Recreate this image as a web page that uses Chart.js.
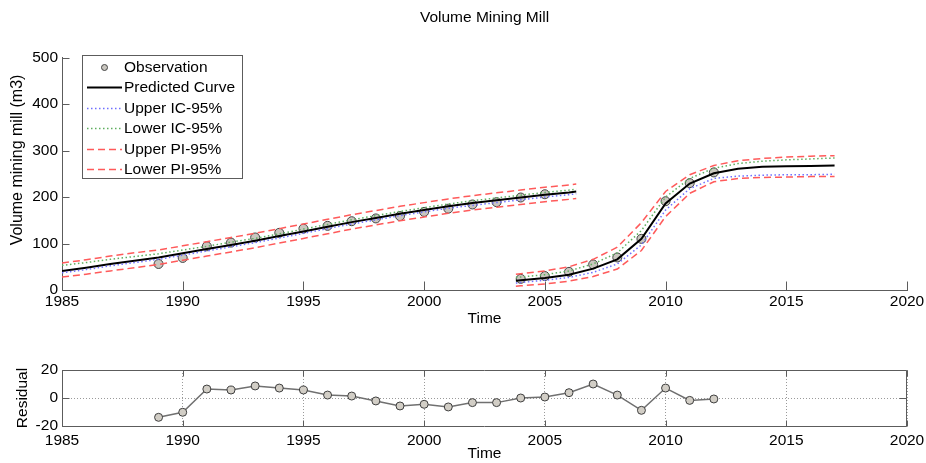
<!DOCTYPE html>
<html>
<head>
<meta charset="utf-8">
<script src="https://cdn.jsdelivr.net/npm/chart.js@4/dist/chart.umd.min.js"></script>
<style>
  body { margin: 0; background: #fff; }
  #wrap { position: relative; width: 926px; height: 463px; }
  #wrap canvas { position: absolute; left: 0; }
  #volumeChart { top: 0; }
  #residualChart { top: 330px; }
</style>
</head>
<body>
<div id="wrap">
  <canvas id="volumeChart" width="926" height="328"></canvas>
  <canvas id="residualChart" width="926" height="133"></canvas>
</div>
<script>
// observed volumes, first and second mill campaigns
const obsYears1 = [1989, 1990, 1991, 1992, 1993, 1994, 1995, 1996, 1997, 1998, 1999, 2000, 2001, 2002, 2003, 2004, 2005];
const obsVolume1 = [56, 69, 94, 102, 113, 123, 132, 138, 148, 154, 159, 168, 175, 184, 189, 199, 206];
const obsYears2 = [2004, 2005, 2006, 2007, 2008, 2009, 2010, 2011, 2012];
const obsVolume2 = [24, 30, 39, 55, 70, 110, 191, 230, 253];

// fitted curve and 95% bands, first campaign
const fitYears1 = [1985, 1986, 1987, 1988, 1989, 1990, 1991, 1992, 1993, 1994, 1995, 1996, 1997, 1998, 1999, 2000, 2001, 2002, 2003, 2004, 2005, 2006, 2006.3];
const predicted1 = [41, 48, 56, 63, 70, 79, 88, 97, 106, 116, 126, 136, 146, 155, 164, 172, 180, 187, 193, 199, 205, 210, 212];
const upperIC1 = [37, 44, 52, 59, 66, 75, 84, 93, 102, 112, 122, 132, 142, 151, 160, 168, 176, 182, 188, 194, 200, 205, 207];
const lowerIC1 = [53, 59, 66, 72, 78, 86, 94, 103, 111, 121, 131, 141, 151, 160, 169, 177, 185, 192, 198, 204, 210, 215, 217];
const upperPI1 = [58, 65, 73, 80, 86, 95, 104, 113, 122, 132, 142, 152, 162, 171, 180, 188, 196, 203, 209, 215, 221, 226, 228];
const lowerPI1 = [28, 34, 41, 48, 55, 64, 73, 82, 91, 101, 111, 121, 131, 140, 149, 157, 165, 172, 178, 184, 190, 195, 197];

// fitted curve and 95% bands, second campaign
const fitYears2 = [2003.8, 2004, 2005, 2006, 2007, 2008, 2009, 2010, 2011, 2012, 2013, 2014, 2015, 2016, 2017];
const predicted2 = [20, 21, 26, 33, 46, 66, 110, 186, 229, 251, 261, 265, 266, 267, 268];
const upperIC2 = [15, 16, 21, 27, 38, 56, 97, 172, 218, 240, 245, 247, 248, 248, 249];
const lowerIC2 = [27, 28, 33, 41, 56, 80, 128, 200, 240, 262, 272, 277, 280, 282, 284];
const upperPI2 = [34, 35, 41, 50, 66, 92, 145, 212, 248, 268, 278, 283, 286, 288, 289];
const lowerPI2 = [8, 9, 13, 19, 29, 45, 85, 158, 208, 233, 240, 242, 243, 244, 244];

const residualYears = [1989, 1990, 1991, 1992, 1993, 1994, 1995, 1996, 1997, 1998, 1999, 2000, 2001, 2002, 2003, 2004, 2005, 2006, 2007, 2008, 2009, 2010, 2011, 2012];
const residuals = [-13.8, -10.2, 6.4, 5.7, 8.6, 7.1, 5.7, 2.1, 1.4, -2.1, -5.7, -4.5, -6.4, -3.3, -3.3, 0, 0.7, 3.8, 10, 2.1, -8.8, 7.1, -1.7, -0.7];

const FONT = '"Liberation Sans", Arial, sans-serif';
const AXIS = '#5c5c5c';
Chart.defaults.font.family = FONT;
Chart.defaults.font.size = 15.5;
Chart.defaults.color = '#111';

function points(xs, ys) {
  return xs.map((x, i) => ({ x: x, y: ys[i] }));
}

// two campaigns in one dataset, split by a null point
function twoPieces(xs1, ys1, xs2, ys2) {
  return points(xs1, ys1).concat([{ x: xs1[xs1.length - 1], y: null }], points(xs2, ys2));
}

const yearLabel = (v) => String(v);

// MATLAB style frame: inward ticks, optional closed box
const axisFrame = {
  id: 'axisFrame',
  afterDraw(chart, args, opts) {
    const { ctx, chartArea: a, scales: { x, y } } = chart;
    const L = Math.round(a.left) + 0.5, R = Math.round(a.right) - 0.5;
    const T = Math.round(a.top) + 0.5, B = Math.round(a.bottom) + 0.5;
    ctx.save();
    ctx.strokeStyle = AXIS;
    ctx.lineWidth = 1;
    ctx.setLineDash([]);
    ctx.beginPath();
    if (opts.box) {
      ctx.rect(L, T, R - L, B - T);
    }
    x.ticks.forEach((t) => {
      const px = Math.round(x.getPixelForValue(t.value)) + 0.5;
      ctx.moveTo(px, B); ctx.lineTo(px, B - opts.tickX);
      if (opts.box) { ctx.moveTo(px, T); ctx.lineTo(px, T + opts.tickX); }
    });
    y.ticks.forEach((t) => {
      const py = Math.round(y.getPixelForValue(t.value)) + 0.5;
      ctx.moveTo(L, py); ctx.lineTo(L + opts.tickY, py);
      if (opts.box) { ctx.moveTo(R, py); ctx.lineTo(R - opts.tickY, py); }
    });
    ctx.stroke();
    ctx.restore();
  }
};

// rotated y label placed beside the value axis
const sideTitle = {
  id: 'sideTitle',
  afterDraw(chart, args, opts) {
    if (!opts.text) return;
    const ctx = chart.ctx;
    ctx.save();
    ctx.translate(opts.x, opts.y);
    ctx.rotate(-Math.PI / 2);
    ctx.font = opts.size + 'px ' + FONT;
    ctx.fillStyle = '#000';
    ctx.textAlign = 'center';
    ctx.textBaseline = 'middle';
    ctx.fillText(opts.text, 0, 0);
    ctx.restore();
  }
};

// boxed legend inside the upper left of the plot
const boxLegend = {
  id: 'boxLegend',
  afterDraw(chart, args, opts) {
    if (!opts.display) return;
    const ctx = chart.ctx;
    ctx.save();
    ctx.fillStyle = '#fff';
    ctx.fillRect(opts.left, opts.top, opts.width, opts.height);
    ctx.strokeStyle = AXIS;
    ctx.lineWidth = 1;
    ctx.strokeRect(opts.left + 0.5, opts.top + 0.5, opts.width, opts.height);
    ctx.font = '15.5px ' + FONT;
    ctx.textBaseline = 'middle';
    chart.data.datasets.forEach((ds, i) => {
      const yy = Math.round(opts.top + opts.firstRow + i * opts.rowHeight) + 0.5;
      const x0 = opts.left + 5, x1 = x0 + opts.sampleWidth;
      if (ds.showLine === false) {
        ctx.beginPath();
        ctx.arc((x0 + x1) / 2, yy, 3, 0, Math.PI * 2);
        ctx.fillStyle = ds.pointBackgroundColor;
        ctx.fill();
        ctx.strokeStyle = ds.pointBorderColor;
        ctx.lineWidth = 1;
        ctx.stroke();
      } else {
        ctx.beginPath();
        ctx.setLineDash(ds.borderDash || []);
        ctx.strokeStyle = ds.borderColor;
        ctx.lineWidth = ds.borderWidth;
        ctx.moveTo(x0, yy);
        ctx.lineTo(x1, yy);
        ctx.stroke();
        ctx.setLineDash([]);
      }
      ctx.fillStyle = '#000';
      ctx.fillText(ds.label, x1 + 2, yy);
    });
    ctx.restore();
  }
};

function yearAxis(height, labelGap) {
  return {
    type: 'linear',
    min: 1985,
    max: 2020,
    ticks: { stepSize: 5, callback: yearLabel, maxRotation: 0, padding: labelGap, color: '#000' },
    title: { display: true, text: 'Time', color: '#000', padding: 0 },
    grid: { display: false, drawTicks: false },
    border: { display: true, color: AXIS, width: 1 },
    afterFit(scale) {
      scale.height = height;
      // keep the plot edges fixed whatever the label gap
      scale.paddingRight = Math.min(scale.paddingRight, 18);
      scale.paddingLeft = Math.min(scale.paddingLeft, 18);
    }
  };
}

new Chart(document.getElementById('volumeChart'), {
  type: 'line',
  data: {
    datasets: [
      {
        label: 'Observation',
        data: twoPieces(obsYears1, obsVolume1, obsYears2, obsVolume2),
        showLine: false,
        pointRadius: 4.5,
        pointBackgroundColor: '#c9c6bf',
        pointBorderColor: '#444',
        pointBorderWidth: 1,
        order: 6
      },
      {
        label: 'Predicted Curve',
        data: twoPieces(fitYears1, predicted1, fitYears2, predicted2),
        borderColor: '#000',
        borderWidth: 2,
        pointRadius: 0,
        order: 5
      },
      {
        label: 'Upper IC-95%',
        data: twoPieces(fitYears1, upperIC1, fitYears2, upperIC2),
        borderColor: '#6f6fff',
        borderWidth: 1.5,
        borderDash: [1.5, 2.5],
        pointRadius: 0,
        order: 4
      },
      {
        label: 'Lower IC-95%',
        data: twoPieces(fitYears1, lowerIC1, fitYears2, lowerIC2),
        borderColor: '#5fae5f',
        borderWidth: 1.5,
        borderDash: [1.5, 2.5],
        pointRadius: 0,
        order: 3
      },
      {
        label: 'Upper PI-95%',
        data: twoPieces(fitYears1, upperPI1, fitYears2, upperPI2),
        borderColor: '#ff5a5a',
        borderWidth: 1.5,
        borderDash: [7, 4],
        pointRadius: 0,
        order: 2
      },
      {
        label: 'Lower PI-95%',
        data: twoPieces(fitYears1, lowerPI1, fitYears2, lowerPI2),
        borderColor: '#ff5a5a',
        borderWidth: 1.5,
        borderDash: [7, 4],
        pointRadius: 0,
        order: 1
      }
    ]
  },
  options: {
    responsive: false,
    animation: false,
    layout: { padding: { top: 0, right: 19, bottom: 0, left: 0 } },
    scales: {
      x: yearAxis(38, 2),
      y: {
        min: 0,
        max: 500,
        ticks: { stepSize: 100, padding: 4, color: '#000' },
        grid: { display: false, drawTicks: false },
        border: { display: true, color: AXIS, width: 1 },
        title: { display: false },
        afterFit(scale) { scale.width = 62; }
      }
    },
    plugins: {
      legend: { display: false },
      tooltip: { enabled: false },
      title: {
        display: true,
        text: 'Volume Mining Mill',
        fullSize: false,
        color: '#000',
        font: { size: 15.5, weight: 'normal' },
        padding: { top: 8, bottom: 31 }
      },
      sideTitle: { text: 'Volume mining mill (m3)', x: 18, y: 160, size: 16 },
      axisFrame: { box: false, tickX: 9, tickY: 7 },
      boxLegend: { display: true, left: 82, top: 55, width: 160, height: 123, firstRow: 12, rowHeight: 20.4, sampleWidth: 35 }
    }
  },
  plugins: [axisFrame, sideTitle, boxLegend]
});

const residualX = yearAxis(37, 5);
residualX.grid = { display: true, drawTicks: false, color: '#9a9a9a', lineWidth: 1 };
residualX.border = { display: false, dash: [1, 2] };

new Chart(document.getElementById('residualChart'), {
  type: 'line',
  data: {
    datasets: [{
      label: 'Residual',
      data: points(residualYears, residuals),
      borderColor: '#707070',
      borderWidth: 1.5,
      pointRadius: 4,
      pointBackgroundColor: '#d2cec6',
      pointBorderColor: '#3e3e3e',
      pointBorderWidth: 1
    }]
  },
  options: {
    responsive: false,
    animation: false,
    layout: { padding: { top: 40, right: 19, bottom: 0, left: 0 } },
    scales: {
      x: residualX,
      y: {
        min: -20,
        max: 20,
        ticks: { stepSize: 20, padding: 4, color: '#000' },
        grid: { display: true, drawTicks: false, color: '#9a9a9a', lineWidth: 1 },
        border: { display: false, dash: [1, 2] },
        title: { display: true, text: 'Residual', color: '#000', padding: { top: 13, bottom: 0 } },
        afterFit(scale) { scale.width = 62; }
      }
    },
    plugins: {
      legend: { display: false },
      tooltip: { enabled: false },
      sideTitle: { text: '' },
      axisFrame: { box: true, tickX: 6, tickY: 7 },
      boxLegend: { display: false }
    }
  },
  plugins: [axisFrame, sideTitle, boxLegend]
});
</script>
</body>
</html>
